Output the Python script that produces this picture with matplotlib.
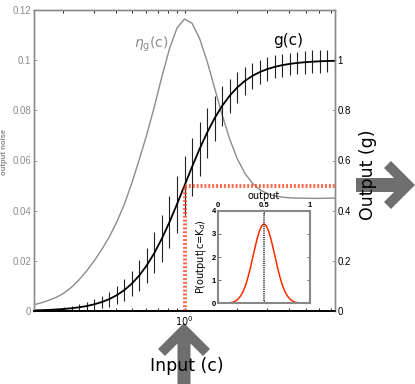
import numpy as np
import matplotlib as mpl
mpl.use('Agg')
import matplotlib.pyplot as plt
from matplotlib.patches import Polygon
from matplotlib.ticker import NullFormatter, FixedLocator, LogLocator

# input concentration grid (ln c) and curves
ln_c = [-2.0, -1.9, -1.8, -1.7, -1.6, -1.5, -1.4, -1.3, -1.2, -1.1, -1.0,
        -0.9, -0.8, -0.7, -0.6, -0.5, -0.4, -0.3, -0.2, -0.1, 0.0,
        0.1, 0.2, 0.3, 0.4, 0.5, 0.6, 0.7, 0.8, 0.9, 1.0,
        1.1, 1.2, 1.3, 1.4, 1.5, 1.6, 1.7, 1.8, 1.9, 2.0]
g_mean = [0.0025, 0.0033, 0.0045, 0.0061, 0.0082, 0.0110, 0.0148, 0.0198, 0.0266, 0.0356, 0.0474,
          0.0630, 0.0832, 0.1091, 0.1419, 0.1824, 0.2315, 0.2891, 0.3543, 0.4256, 0.5000,
          0.5744, 0.6457, 0.7109, 0.7685, 0.8176, 0.8581, 0.8909, 0.9168, 0.9370, 0.9526,
          0.9644, 0.9734, 0.9802, 0.9852, 0.9890, 0.9918, 0.9939, 0.9955, 0.9967, 0.9975]
noise = [0.0025, 0.0033, 0.0043, 0.0055, 0.0072, 0.0095, 0.0125, 0.0160, 0.0200, 0.0245, 0.0295,
         0.0355, 0.0425, 0.0510, 0.0605, 0.0705, 0.0815, 0.0935, 0.1045, 0.1128, 0.1164,
         0.1147, 0.1087, 0.0996, 0.0889, 0.0782, 0.0686, 0.0608, 0.0550, 0.0510, 0.0484,
         0.0468, 0.0459, 0.0454, 0.0451, 0.0450, 0.0450, 0.0449, 0.0449, 0.0450, 0.0450]

# inset: distribution of output at c = Kd
out_x = [0.0, 0.025, 0.05, 0.075, 0.1, 0.125, 0.15, 0.175, 0.2, 0.225, 0.25,
         0.275, 0.3, 0.325, 0.35, 0.375, 0.4, 0.425, 0.45, 0.475, 0.5,
         0.525, 0.55, 0.575, 0.6, 0.625, 0.65, 0.675, 0.7, 0.725, 0.75,
         0.775, 0.8, 0.825, 0.85, 0.875, 0.9, 0.925, 0.95, 0.975, 1.0]
p_out = [0.0003, 0.0008, 0.0020, 0.0044, 0.0094, 0.0191, 0.0373, 0.0695, 0.124, 0.210, 0.341,
         0.529, 0.783, 1.107, 1.494, 1.925, 2.369, 2.784, 3.125, 3.349, 3.427,
         3.349, 3.125, 2.784, 2.369, 1.925, 1.494, 1.107, 0.783, 0.529, 0.341,
         0.210, 0.124, 0.0695, 0.0373, 0.0191, 0.0094, 0.0044, 0.0020, 0.0008, 0.0003]

kd = 1.0
g_half = 0.5

c = np.exp(ln_c)
g_mean = np.array(g_mean)
noise = np.array(noise)

W, H = 415, 384
fig = plt.figure(figsize=(W/100, H/100), dpi=100)
tick_font = 'Liberation Sans'
grey = '#8c8c8c'

# overlay for the big arrows and labels (pixel coords)
ov = fig.add_axes([0, 0, 1, 1], zorder=0)
ov.set_xlim(0, W)
ov.set_ylim(H, 0)
ov.axis('off')
up_arrow = [(184, 323), (210, 349), (203, 356), (190.5, 343.5), (190.5, 384),
            (177.5, 384), (177.5, 343.5), (165, 356), (158, 349)]
right_arrow = [(415, 185), (391, 161), (384, 168), (394, 178), (356, 178),
               (356, 192), (394, 192), (384, 202), (391, 209)]
ov.add_patch(Polygon(up_arrow, closed=True, color='#6e6e6e', lw=0))
ov.add_patch(Polygon(right_arrow, closed=True, color='#6e6e6e', lw=0))
ov.text(187, 366, 'Input (c)', fontsize=12.5, ha='center', va='center', family='DejaVu Sans')
ov.text(368, 175, 'Output (g)', fontsize=12.5, ha='center', va='center', rotation=90,
        family='DejaVu Sans')

# main axes
ax = fig.add_axes([34/W, 1-311/H, 301/W, 301/H], zorder=1)
ax2 = ax.twinx()
ax2.set_zorder(2)
ax2.patch.set_visible(False)

ax.plot(c, noise, color=grey, lw=1)
ax2.vlines(c, g_mean - noise, g_mean + noise, color='#222222', lw=0.8)
ax2.plot(c, g_mean, color='black', lw=1.3)
ax2.plot([kd, kd], [0, g_half], color='#ff4a2a', lw=2.8, ls=(0, (0.5, 0.5)), alpha=0.85)
ax2.plot([kd, c[-1]], [g_half, g_half], color='#ff4a2a', lw=2.8, ls=(0, (0.5, 0.5)), alpha=0.85)

ax.set_xscale('log')
ax.set_xlim(c[0], c[-1])
ax.set_ylim(0, 0.12)
ax2.set_ylim(0, 1.2)
ax.xaxis.set_major_locator(FixedLocator([1.0]))
ax.set_xticklabels([r'$10^0$'])
ax.xaxis.set_minor_locator(LogLocator(subs=np.arange(2, 10)))
ax.xaxis.set_minor_formatter(NullFormatter())
ax.set_yticks([0, 0.02, 0.04, 0.06, 0.08, 0.1, 0.12])
ax.set_yticklabels(['0', '0.02', '0.04', '0.06', '0.08', '0.1', '0.12'])
ax2.set_yticks([0, 0.2, 0.4, 0.6, 0.8, 1.0])
ax2.set_yticklabels(['0', '0.2', '0.4', '0.6', '0.8', '1'])

ax.tick_params(axis='both', which='both', direction='in', top=True, length=2.5, width=0.6,
               labelsize=7, pad=2)
ax.tick_params(axis='y', colors=grey, labelcolor=grey)
ax.tick_params(axis='x', labelcolor='black')
ax2.tick_params(axis='y', direction='in', length=2.5, width=0.6, labelsize=7, pad=2,
                colors=grey, labelcolor='black')
for lab in ax.get_yticklabels() + ax2.get_yticklabels() + ax.get_xticklabels():
    lab.set_family(tick_font)

for a in (ax, ax2):
    for s in ('left', 'right', 'top'):
        a.spines[s].set_color(grey)
        a.spines[s].set_linewidth(1.0)
    a.spines['bottom'].set_color('black')
    a.spines['bottom'].set_linewidth(1.2)

ax.set_ylabel('output noise', fontsize=5.5, color=grey, fontweight='bold',
              family='Liberation Sans')
ax.yaxis.set_label_coords(-0.085, 0.53)

ax.text(0.64, 0.1065, r'$\eta_{\mathrm{g}}$(c)', color=grey, fontsize=10, ha='center', va='center')
ax2.text(3.95, 1.08, 'g(c)', color='black', fontsize=11, ha='center', va='center')

# inset
ins = fig.add_axes([218/W, 1-303.3/H, 92/W, 92.6/H], zorder=3)
ins.plot(out_x, p_out, color='#ff2a00', lw=1.1)
ins.plot([0.5, 0.5], [0, 4], color='#333333', lw=1.3, ls=(0, (0.6, 0.6)))
ins.set_xlim(0, 1)
ins.set_ylim(0, 4)
ins.xaxis.tick_top()
ins.xaxis.set_label_position('top')
ins.set_xticks([0, 0.5, 1])
ins.set_xticklabels(['0', '0.5', '1'])
ins.set_yticks([0, 1, 2, 3, 4])
ins.tick_params(axis='both', direction='in', length=2, width=0.6, labelsize=5.5, pad=1.5,
                top=True, bottom=True, left=True, right=True, colors='#555555',
                labelcolor='black')
for lab in ins.get_xticklabels() + ins.get_yticklabels():
    lab.set_family(tick_font)
    lab.set_fontweight('bold')
ins.set_xlabel('output', fontsize=7, labelpad=2)
ins.set_ylabel(r'P(output|c=K$_d$)', fontsize=7, labelpad=3)
for s in ins.spines.values():
    s.set_color('#888888')
    s.set_linewidth(1.5)

fig.savefig('out.png', dpi=100)
